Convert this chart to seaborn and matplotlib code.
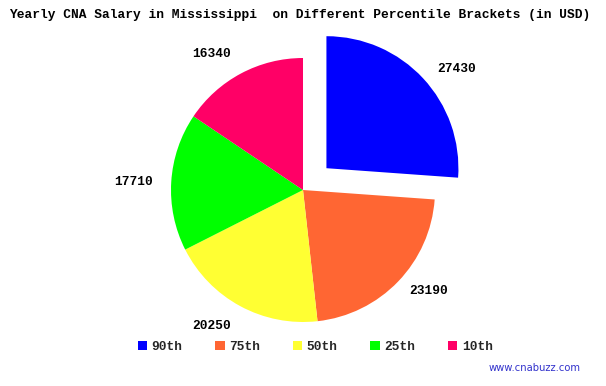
import matplotlib
matplotlib.use("Agg")
import matplotlib.pyplot as plt
import seaborn as sns
from matplotlib.patches import Patch

sns.set_theme(style="white")
plt.rcParams['font.family'] = ['Liberation Mono', 'DejaVu Sans Mono']

percentiles = ["90th", "75th", "50th", "25th", "10th"]
salaries = [27430, 23190, 20250, 17710, 16340]
colors = ["#0000FF", "#FF6633", "#FFFF33", "#00FF00", "#FF0066"]

# style: explode offset (pixels) and label nudges (pixels)
explode = [32, 0, 0, 0, 0]
label_nudges = [(11, -11), (9, 12), (-14, 7), (-7, -2), (-15, -7)]

fig = plt.figure(figsize=(6.06, 3.86), dpi=100)
ax = fig.add_axes([0, 0, 1, 1])

wedges, texts = ax.pie(
    salaries, labels=[str(v) for v in salaries], colors=colors,
    explode=explode, startangle=90, counterclock=False,
    radius=132, center=(303, 196), labeldistance=1.23,
    wedgeprops=dict(linewidth=0),
    textprops=dict(fontsize=9.3, fontweight='bold', color='black'),
    frame=True)
ax.set_xlim(0, 606)
ax.set_ylim(0, 386)
ax.set_aspect('equal')
ax.axis('off')
for t, (dx, dy) in zip(texts, label_nudges):
    x, y = t.get_position()
    t.set_position((x + dx, y + dy))
    t.set_ha('center')
    t.set_va('center')

fig.text(0.494, 0.962, "Yearly CNA Salary in Mississippi  on Different Percentile Brackets (in USD)",
         ha='center', va='center', fontsize=9.25, fontweight='bold', color='black')

handles = [Patch(facecolor=c, edgecolor='none') for c in colors]
fig.legend(handles, percentiles, loc='center', bbox_to_anchor=(0.52, 0.101), ncol=5,
           frameon=False, prop=dict(size=9.3, weight='bold'),
           handlelength=0.75, handleheight=0.75, handletextpad=0.35, columnspacing=2.5)

fig.text(0.958, 0.047, "www.cnabuzz.com", ha='right', va='center', fontsize=7.2,
         color='#3333CC', family='DejaVu Sans')

fig.savefig("out.png", dpi=100, facecolor='white')
